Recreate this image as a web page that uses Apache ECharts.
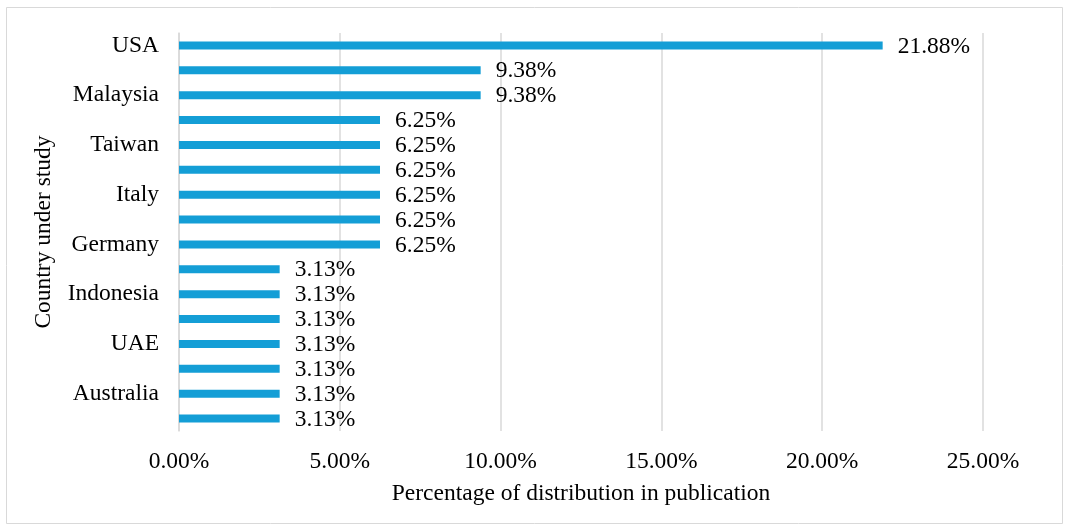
<!DOCTYPE html>
<html>
<head>
<meta charset="utf-8">
<script src="https://cdn.jsdelivr.net/npm/echarts@6/dist/echarts.min.js"></script>
<style>
  html, body { margin: 0; padding: 0; background: #fff; }
  #chart { width: 1069px; height: 525px; }
</style>
</head>
<body>
<div id="chart"></div>
<script>
// Share of publications by country (percent), listed top to bottom
const countries = [
  'USA', 'China', 'Malaysia', 'UK', 'Taiwan', 'India', 'Italy', 'South Korea',
  'Germany', 'Spain', 'Indonesia', 'Japan', 'UAE', 'Canada', 'Australia', 'Brazil'
];
const shares = [
  21.88, 9.38, 9.38, 6.25, 6.25, 6.25, 6.25, 6.25,
  6.25, 3.13, 3.13, 3.13, 3.13, 3.13, 3.13, 3.13
];
const xTicks = { min: 0, max: 25, interval: 5 };

const FONT = '"Liberation Serif", "Times New Roman", serif';
const SIZE = 23.5;
const TEXT = '#000';
const GRID = '#d9d9d9';
const BAR = '#149ed6';

const chart = echarts.init(document.getElementById('chart'), null, { renderer: 'canvas' });

chart.setOption({
  animation: false,
  backgroundColor: '#fff',
  textStyle: { fontFamily: FONT },
  graphic: [{
    type: 'rect',
    shape: { x: 6.5, y: 7.5, width: 1056, height: 516 },
    style: { fill: 'none', stroke: '#d9d9d9', lineWidth: 1 },
    silent: true
  }],
  grid: { left: 179, right: 86, top: 33, bottom: 94, containLabel: false },
  xAxis: {
    type: 'value',
    min: xTicks.min,
    max: xTicks.max,
    interval: xTicks.interval,
    name: 'Percentage of distribution in publication',
    nameLocation: 'middle',
    nameGap: 51,
    nameTextStyle: { fontFamily: FONT, fontSize: SIZE, color: TEXT },
    axisLine: { show: false },
    axisTick: { show: false },
    splitLine: { show: true, lineStyle: { color: GRID, width: 1.5 } },
    axisLabel: {
      margin: 19,
      fontFamily: FONT,
      fontSize: SIZE,
      color: TEXT,
      formatter: v => v.toFixed(2) + '%'
    }
  },
  yAxis: {
    type: 'category',
    data: countries,
    inverse: true,
    name: 'Country under study',
    nameLocation: 'middle',
    nameGap: 123,
    nameRotate: 90,
    nameTextStyle: { fontFamily: FONT, fontSize: SIZE, color: TEXT },
    axisLine: { show: true, lineStyle: { color: GRID, width: 1.5 } },
    axisTick: { show: false },
    splitLine: { show: false },
    axisLabel: {
      interval: 1,
      margin: 20,
      fontFamily: FONT,
      fontSize: SIZE,
      color: TEXT
    }
  },
  series: [{
    type: 'bar',
    data: shares,
    barWidth: 8,
    itemStyle: { color: BAR },
    label: {
      show: true,
      position: 'right',
      distance: 15,
      offset: [0, 1],
      fontFamily: FONT,
      fontSize: SIZE,
      color: TEXT,
      formatter: p => p.value.toFixed(2) + '%'
    }
  }]
});
</script>
</body>
</html>
